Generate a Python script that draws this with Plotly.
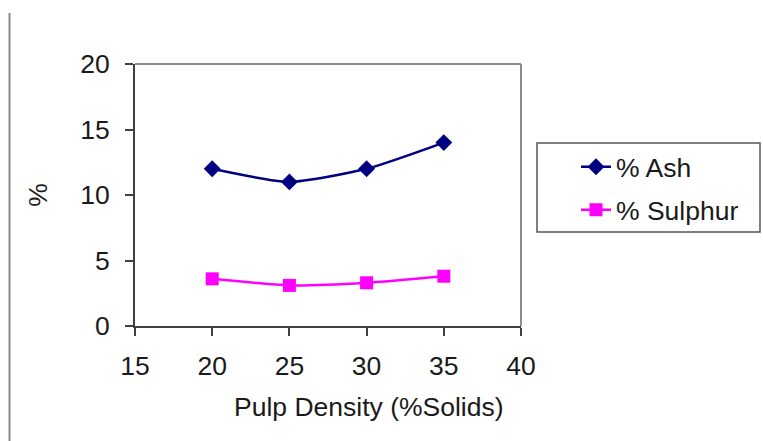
import plotly.graph_objects as go

pulp_density = [20, 25, 30, 35]
ash = [12.0, 11.0, 12.0, 14.0]
sulphur = [3.6, 3.1, 3.3, 3.8]
x_ticks = [15, 20, 25, 30, 35, 40]
y_ticks = [0, 5, 10, 15, 20]
x_title = "Pulp Density (%Solids)"
y_title = "%"

FONT = dict(family="Liberation Sans, Arial, sans-serif", size=26.5, color="#1a1a1a")

L, R, T, B = 135, 521, 64, 326
PW, PH = R - L, B - T


def px(xp):
    return (xp - L) / PW


def py(yp):
    return (B - yp) / PH


fig = go.Figure()
fig.add_trace(go.Scatter(
    x=pulp_density, y=ash, name="% Ash", mode="lines+markers",
    line=dict(color="#000080", width=2.5, shape="spline", smoothing=0.6),
    marker=dict(symbol="diamond", size=13, color="#000080"),
    legend="legend",
))
fig.add_trace(go.Scatter(
    x=pulp_density, y=sulphur, name="% Sulphur", mode="lines+markers",
    line=dict(color="#ff00ff", width=2.5, shape="spline", smoothing=0.6),
    marker=dict(symbol="square", size=13, color="#ff00ff"),
    legend="legend2",
))

leg_common = dict(xanchor="left", yanchor="middle", bgcolor="rgba(0,0,0,0)",
                  borderwidth=0, font=FONT)

fig.update_layout(
    width=763, height=441,
    margin=dict(l=L, r=763 - R, t=T, b=441 - B),
    paper_bgcolor="white", plot_bgcolor="white",
    font=FONT,
    showlegend=True,
    legend=dict(x=px(576), y=py(167), **leg_common),
    legend2=dict(x=px(576), y=py(210), **leg_common),
    xaxis=dict(
        range=[15, 40], tickvals=x_ticks, showgrid=False, zeroline=False,
        showline=True, linecolor="#404040", linewidth=2,
        ticks="outside", ticklen=8, tickcolor="#404040", tickwidth=2,
        ticklabelstandoff=7,
        tickfont=FONT,
    ),
    yaxis=dict(
        range=[0, 20], tickvals=y_ticks, showgrid=False, zeroline=False,
        showline=True, linecolor="#404040", linewidth=2,
        ticks="outside", ticklen=8, tickcolor="#404040", tickwidth=2,
        ticklabelstandoff=10,
        title=dict(text=y_title, font=FONT, standoff=25),
        tickfont=FONT,
    ),
)

fig.add_annotation(text=x_title, xref="paper", yref="paper",
                   x=px(369), y=py(407), xanchor="center", yanchor="middle",
                   showarrow=False, font=FONT)

# top and right plot border
fig.add_shape(type="line", xref="paper", yref="paper", x0=0, x1=1, y0=1, y1=1,
              line=dict(color="#8c8c8c", width=2))
fig.add_shape(type="line", xref="paper", yref="paper", x0=1, x1=1, y0=0, y1=1,
              line=dict(color="#8c8c8c", width=2))

# legend frame
fig.add_shape(type="rect", xref="paper", yref="paper",
              x0=px(537), x1=px(760), y0=py(232), y1=py(143),
              line=dict(color="#555555", width=1.5))

# page edge line at left
fig.add_shape(type="line", xref="paper", yref="paper",
              x0=px(9.5), x1=px(9.5), y0=py(441), y1=py(13),
              line=dict(color="#8a8a8a", width=2))

fig.write_html("out.html")
